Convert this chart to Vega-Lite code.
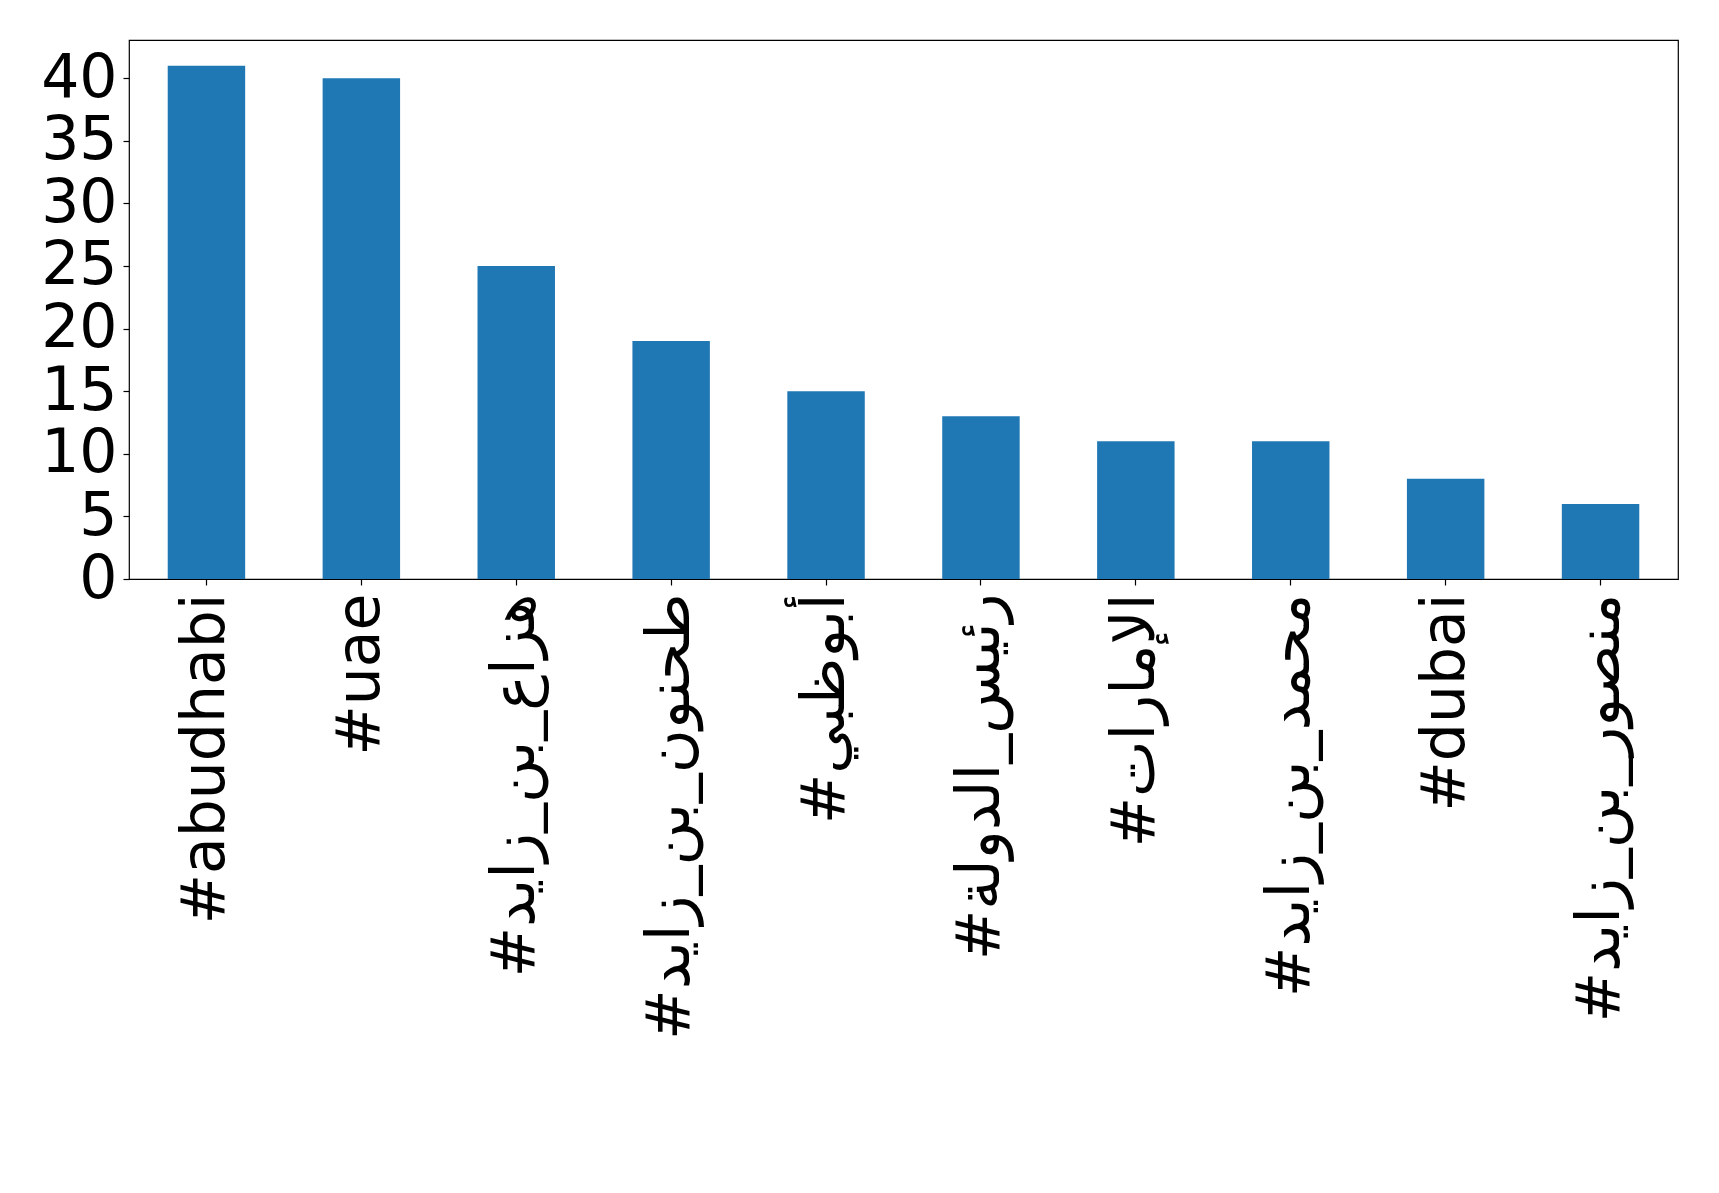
{
  "$schema": "https://vega.github.io/schema/vega-lite/v6.json",
  "width": 1549,
  "height": 539,
  "autosize": "none",
  "padding": {"left": 129, "top": 40, "right": 41, "bottom": 614},
  "background": "white",
  "config": {
    "view": {"stroke": "black", "strokeWidth": 1.2},
    "font": "DejaVu Sans"
  },
  "data": {
    "values": [
      {"hashtag": "#abudhabi", "count": 41},
      {"hashtag": "#uae", "count": 40},
      {"hashtag": "#هزاع_بن_زايد", "count": 25},
      {"hashtag": "#طحنون_بن_زايد", "count": 19},
      {"hashtag": "#أبوظبي", "count": 15},
      {"hashtag": "#رئيس_الدولة", "count": 13},
      {"hashtag": "#الإمارات", "count": 11},
      {"hashtag": "#محمد_بن_زايد", "count": 11},
      {"hashtag": "#dubai", "count": 8},
      {"hashtag": "#منصور_بن_زايد", "count": 6}
    ]
  },
  "mark": {"type": "bar", "color": "#1f77b4"},
  "encoding": {
    "x": {
      "field": "hashtag",
      "type": "nominal",
      "sort": null,
      "scale": {"paddingInner": 0.5, "paddingOuter": 0.25},
      "axis": {
        "title": null,
        "labelAngle": -90,
        "labelFont": "DejaVu Sans",
        "labelFontSize": 60,
        "labelColor": "black",
        "labelPadding": 8,
        "labelLimit": 0,
        "labelOverlap": false,
        "tickColor": "black",
        "tickSize": 6,
        "tickWidth": 1.2,
        "domain": false,
        "grid": false
      }
    },
    "y": {
      "field": "count",
      "type": "quantitative",
      "scale": {"domain": [0, 43.05], "nice": false, "zero": true},
      "axis": {
        "title": null,
        "values": [0, 5, 10, 15, 20, 25, 30, 35, 40],
        "labelFont": "DejaVu Sans",
        "labelFontSize": 60,
        "labelColor": "black",
        "labelPadding": 6,
        "labelOverlap": false,
        "labelFlush": false,
        "tickColor": "black",
        "tickSize": 6,
        "tickWidth": 1.2,
        "domain": false,
        "grid": false
      }
    }
  }
}
